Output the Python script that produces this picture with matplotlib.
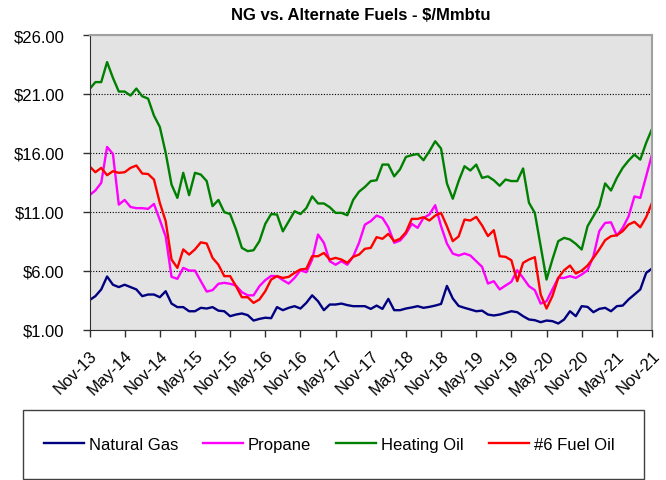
import matplotlib
matplotlib.use("Agg")
import matplotlib.pyplot as plt
from matplotlib.patches import Rectangle
from matplotlib.ticker import FuncFormatter

plt.rcParams["font.family"] = ["Liberation Sans", "DejaVu Sans"]

# Monthly prices in $/Mmbtu, Nov-13 .. Nov-21 (one row per Nov..Oct year)
natural_gas = [
    3.49, 3.83, 4.4, 5.5, 4.8, 4.6, 4.8, 4.6, 4.4, 3.83, 3.97, 3.97,
    3.74, 4.25, 3.2, 2.9, 2.9, 2.55, 2.55, 2.84, 2.78, 2.9, 2.6, 2.55,
    2.13, 2.27, 2.36, 2.22, 1.76, 1.9, 2.0, 1.96, 2.9, 2.64, 2.84, 2.98,
    2.78, 3.26, 3.9, 3.4, 2.64, 3.12, 3.12, 3.2, 3.07, 2.98, 2.98, 2.98,
    2.75, 3.03, 2.75, 3.6, 2.64, 2.64, 2.78, 2.87, 2.98, 2.84, 2.92, 3.03,
    3.17, 4.7, 3.63, 3.0, 2.84, 2.7, 2.55, 2.6, 2.27, 2.19, 2.27, 2.41,
    2.55, 2.47, 2.13, 1.85, 1.79, 1.62, 1.76, 1.71, 1.51, 1.85, 2.55, 2.13,
    2.98, 2.92, 2.47, 2.75, 2.84, 2.55, 2.98, 3.03, 3.55, 3.97, 4.4, 5.8,
    6.18,
]
propane = [
    12.4, 12.8, 13.45, 16.5, 15.9, 11.6, 12.0, 11.4, 11.3, 11.3, 11.24, 11.66,
    10.3, 8.9, 5.47, 5.3, 6.23, 6.0, 6.0, 5.1, 4.22, 4.34, 4.88, 4.96,
    4.88, 4.73, 4.17, 3.9, 3.9, 4.68, 5.19, 5.55, 5.53, 5.19, 4.9, 5.38,
    6.03, 5.86, 6.94, 9.06, 8.36, 6.8, 6.5, 6.8, 6.5, 7.2, 8.36, 9.9,
    10.2, 10.67, 10.47, 9.68, 8.36, 8.55, 9.12, 9.97, 9.63, 10.47, 10.76, 11.55,
    9.77, 8.3, 7.44, 7.28, 7.45, 7.28, 6.8, 6.32, 4.9, 5.1, 4.4, 4.73,
    5.05, 6.03, 5.38, 4.68, 4.34, 3.2, 3.4, 4.4, 5.38, 5.38, 5.53, 5.38,
    5.67, 6.03, 7.22, 9.35, 10.05, 10.1, 8.97, 9.63, 10.6, 12.3, 12.17, 14.0,
    15.85,
]
heating_oil = [
    21.4, 22.0, 22.0, 23.7, 22.36, 21.2, 21.2, 20.86, 21.45, 20.8, 20.6, 19.16,
    18.2, 16.0, 13.3, 12.17, 14.3, 12.4, 14.3, 14.15, 13.6, 11.47, 12.0, 10.96,
    10.8, 9.5, 7.93, 7.65, 7.73, 8.5, 9.97, 10.8, 10.76, 9.33, 10.18, 11.04,
    10.8, 11.3, 12.3, 11.7, 11.7, 11.38, 10.9, 10.9, 10.7, 12.0, 12.7, 13.1,
    13.6, 13.67, 15.0, 15.0, 14.0, 14.6, 15.65, 15.8, 15.9, 15.37, 16.13, 16.98,
    16.36, 13.4, 12.1, 13.6, 14.86, 14.5, 15.0, 13.87, 14.0, 13.67, 13.2, 13.73,
    13.6, 13.6, 14.67, 11.76, 10.9, 8.07, 5.24, 6.94, 8.5, 8.78, 8.64, 8.27,
    7.79, 9.77, 10.62, 11.47, 13.4, 12.8, 13.87, 14.72, 15.34, 15.85, 15.42, 16.84,
    18.03,
]
fuel_oil_6 = [
    14.86, 14.35, 14.72, 14.1, 14.44, 14.3, 14.35, 14.72, 14.92, 14.24, 14.2, 13.73,
    11.75, 10.2, 6.94, 6.23, 7.8, 7.36, 7.8, 8.4, 8.3, 7.08, 6.5, 5.53,
    5.53, 4.68, 3.74, 3.74, 3.26, 3.55, 4.25, 5.24, 5.53, 5.38, 5.47, 5.81,
    6.1, 6.15, 7.22, 7.22, 7.5, 6.94, 7.08, 6.94, 6.66, 7.17, 7.36, 7.85,
    7.93, 8.84, 8.7, 9.12, 8.5, 8.7, 9.26, 10.39, 10.39, 10.53, 10.25, 10.67,
    10.9, 9.77, 8.5, 8.9, 10.33, 10.25, 10.56, 9.83, 8.93, 9.43, 7.22, 7.17,
    6.88, 5.1, 6.66, 6.94, 7.14, 3.97, 2.78, 3.83, 5.38, 6.03, 6.43, 5.75,
    6.0, 6.43, 7.08, 7.79, 8.58, 8.92, 9.0, 9.35, 9.91, 10.14, 9.68, 10.53,
    11.75,
]

series_names = ["Natural Gas", "Propane", "Heating Oil", "#6 Fuel Oil"]
series_colors = ["#000080", "#FF00FF", "#008000", "#FF0000"]

tick_labels = ["Nov-13", "May-14", "Nov-14", "May-15", "Nov-15", "May-16",
               "Nov-16", "May-17", "Nov-17", "May-18", "Nov-18", "May-19",
               "Nov-19", "May-20", "Nov-20", "May-21", "Nov-21"]
y_ticks = [1, 6, 11, 16, 21, 26]

W, H = 666, 481
fig = plt.figure(figsize=(W / 100, H / 100), dpi=100)
ax = fig.add_axes([89.5 / W, 1 - 330.5 / H, (652 - 89.5) / W, (330.5 - 36) / H])
ax.set_facecolor("#E3E3E3")

months = list(range(len(natural_gas)))
for values, name, color in zip([natural_gas, propane, heating_oil, fuel_oil_6],
                               series_names, series_colors):
    ax.plot(months, values, color=color, lw=1.7, label=name)

ax.set_xlim(0, len(natural_gas) - 1)
ax.set_ylim(1, 26)
ax.set_yticks(y_ticks)
ax.yaxis.set_major_formatter(FuncFormatter(lambda v, p: f"${v:.2f}"))
ax.set_xticks(months[::6])
ax.set_xticklabels(tick_labels, rotation=45, ha="right", va="top",
                   rotation_mode="anchor")
ax.tick_params(axis="both", labelsize=12, length=5, width=1, color="#303030")
ax.tick_params(axis="y", pad=13)
ax.tick_params(axis="x", pad=8)

ax.set_axisbelow(True)
ax.yaxis.grid(True, color="black", linestyle=(0, (1, 1.5)), linewidth=0.8)
for side in ["left", "bottom"]:
    ax.spines[side].set_color("#303030")
for side in ["top", "right"]:
    ax.spines[side].set_color("#A0A0A0")
    ax.spines[side].set_linewidth(1.5)

fig.text(361 / W, 1 - 16 / H, "NG vs. Alternate Fuels - $/Mmbtu",
         ha="center", va="center", fontsize=12, fontweight="bold")

# legend box
fig.patches.append(Rectangle((23 / W, 1 - 480 / H), (644 - 23) / W, (480 - 410.5) / H,
                             transform=fig.transFigure, fill=False,
                             edgecolor="#404040", linewidth=1))
handles, labels = ax.get_legend_handles_labels()
fig.legend(handles, labels, loc="center", bbox_to_anchor=(329 / W, 1 - 445.5 / H),
           ncol=4, frameon=False, fontsize=12, handlelength=2.4,
           handletextpad=0.3, columnspacing=1.5)

fig.savefig("out.png", dpi=100)
